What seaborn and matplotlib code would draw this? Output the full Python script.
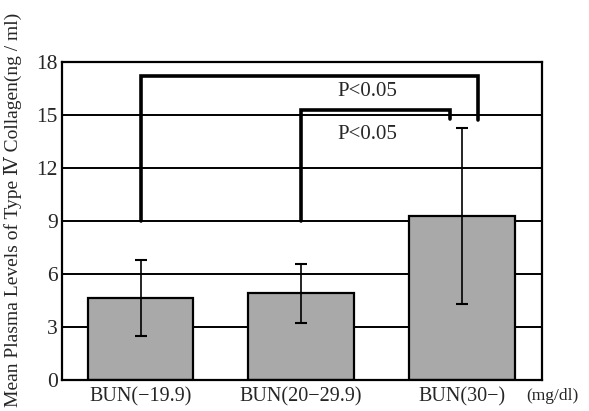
import matplotlib
matplotlib.use("Agg")
import matplotlib.pyplot as plt
import seaborn as sns
import pandas as pd
import numpy as np

categories = ["BUN(\u221219.9)", "BUN(20\u221229.9)", "BUN(30\u2212)"]
means = [4.65, 4.90, 9.27]
sds = [2.15, 1.67, 4.97]
yticks = [0, 3, 6, 9, 12, 15, 18]
# brackets between categories
bracket_pairs = [(0, 2), (1, 2)]
bracket_tops = [17.2, 15.3]
bracket_left_base = [9.0, 9.0]
bracket_right_base = [14.7, 14.75]
bracket_right_offset = [0.1, -0.07]
p_labels = ["P<0.05", "P<0.05"]
p_label_y = [16.3, 13.9]

sns.set_style("white")
plt.rcParams['font.family'] = ['Liberation Serif', 'DejaVu Serif']

df = pd.DataFrame({"group": categories, "value": means})

fig = plt.figure(figsize=(5.89, 4.11), dpi=100)
ax = fig.add_axes([0.105, 0.0754, 0.815, 0.774])

sns.barplot(data=df, x="group", y="value", ax=ax, color="#a9a9a9",
            edgecolor="black", linewidth=1.6, width=0.66, errorbar=None,
            saturation=1, zorder=2)
ax.errorbar(np.arange(len(categories)), means, yerr=sds, fmt="none",
            ecolor="black", elinewidth=1.2, capsize=4, capthick=1.5, zorder=3)

for i, (a, b) in enumerate(bracket_pairs):
    xr = b + bracket_right_offset[i]
    ax.plot([a, a, xr, xr],
            [bracket_left_base[i], bracket_tops[i], bracket_tops[i], bracket_right_base[i]],
            color="black", linewidth=2.6, solid_joinstyle="miter", zorder=4)
    ax.text(1.41, p_label_y[i], p_labels[i], ha="center", va="center",
            fontsize=15, zorder=5)

ax.set_ylim(0, 18)
ax.set_xlim(-0.49, 2.5)
ax.set_yticks(yticks)
ax.set_yticklabels([str(t) for t in yticks], fontsize=15.5)
ax.tick_params(axis="x", labelsize=14.5, length=0, pad=5)
ax.tick_params(axis="y", length=0, pad=3)
ax.yaxis.grid(True, color="black", linewidth=1.4)
ax.set_axisbelow(True)
for s in ax.spines.values():
    s.set_color("black")
    s.set_linewidth(1.6)
ax.set_xlabel("")
ax.set_ylabel("Mean Plasma Levels of Type \u2163 Collagen(ng / ml)", fontsize=14)
ax.yaxis.set_label_coords(-0.083, 0.535)
ax.text(1.021, -0.05, "(mg/dl)", transform=ax.transAxes, fontsize=12.5,
        ha="center", va="center")

fig.savefig("out.png", dpi=100)
